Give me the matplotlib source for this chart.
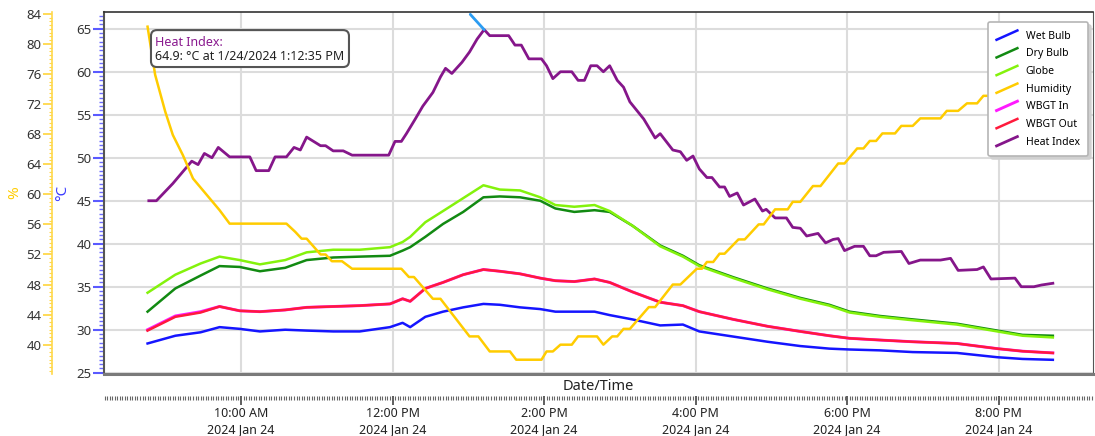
from datetime import datetime
import matplotlib
matplotlib.use("Agg")
import matplotlib.pyplot as plt
import matplotlib.dates as mdates
from matplotlib.ticker import MultipleLocator, FuncFormatter
from matplotlib.legend_handler import HandlerBase
from matplotlib.lines import Line2D
from matplotlib.patches import FancyBboxPatch

plt.rcParams['font.family'] = ['Noto Sans', 'DejaVu Sans']

DAY = "2024-01-24T"

# temperature series (deg C), common time base
temp_times = ["08:46", "09:08", "09:28", "09:43", "09:59", "10:15", "10:35", "10:52", "11:13", "11:34",
              "11:58", "12:08", "12:14", "12:26", "12:40", "12:56", "13:12", "13:25", "13:41", "13:57",
              "14:09", "14:24", "14:40", "14:52", "15:10", "15:32", "15:50", "16:03", "16:30", "16:57",
              "17:23", "17:46", "18:02", "18:26", "18:52", "19:27", "19:59", "20:19", "20:43"]
wet_bulb = [28.4, 29.3, 29.7, 30.3, 30.1, 29.8, 30.0, 29.9, 29.8, 29.8,
            30.3, 30.8, 30.3, 31.5, 32.1, 32.6, 33.0, 32.9, 32.6, 32.4,
            32.1, 32.1, 32.1, 31.7, 31.2, 30.5, 30.6, 29.8, 29.2, 28.6,
            28.1, 27.8, 27.7, 27.6, 27.4, 27.3, 26.8, 26.6, 26.5]
dry_bulb = [32.1, 34.8, 36.3, 37.4, 37.3, 36.8, 37.2, 38.1, 38.4, 38.5,
            38.6, 39.2, 39.6, 40.8, 42.3, 43.7, 45.4, 45.5, 45.4, 45.0,
            44.1, 43.7, 43.9, 43.7, 42.1, 39.8, 38.6, 37.5, 36.1, 34.8,
            33.7, 32.9, 32.1, 31.6, 31.2, 30.7, 29.9, 29.4, 29.3]
globe = [34.3, 36.4, 37.7, 38.5, 38.1, 37.6, 38.1, 39.0, 39.3, 39.3,
         39.6, 40.2, 40.8, 42.5, 43.8, 45.3, 46.8, 46.3, 46.2, 45.4,
         44.5, 44.3, 44.5, 43.8, 42.1, 39.7, 38.5, 37.4, 36.0, 34.7,
         33.6, 32.8, 32.0, 31.5, 31.1, 30.6, 29.8, 29.3, 29.1]
wbgt_in = [30.0, 31.6, 32.1, 32.7, 32.2, 32.1, 32.3, 32.6, 32.7, 32.8,
           33.0, 33.6, 33.3, 34.8, 35.5, 36.4, 37.0, 36.8, 36.5, 36.0,
           35.7, 35.6, 35.9, 35.5, 34.4, 33.2, 32.8, 32.1, 31.2, 30.4,
           29.8, 29.3, 29.0, 28.8, 28.6, 28.4, 27.8, 27.5, 27.3]
wbgt_out = [29.9, 31.5, 32.0, 32.7, 32.2, 32.1, 32.3, 32.6, 32.7, 32.8,
            33.0, 33.6, 33.3, 34.8, 35.5, 36.4, 37.0, 36.8, 36.5, 36.0,
            35.7, 35.6, 35.9, 35.5, 34.4, 33.2, 32.8, 32.1, 31.2, 30.4,
            29.8, 29.3, 29.0, 28.8, 28.6, 28.4, 27.8, 27.5, 27.3]

# heat index (deg C)
heat_times = ["08:47", "08:53", "09:06", "09:21", "09:26", "09:31", "09:37", "09:42", "09:51", "10:07",
              "10:12", "10:22", "10:27", "10:36", "10:42", "10:47", "10:52", "11:03", "11:07", "11:13",
              "11:21", "11:28", "11:57", "12:02", "12:07", "12:11", "12:18", "12:24", "12:32", "12:38",
              "12:42", "12:47", "12:55", "13:01", "13:07", "13:12:35", "13:17", "13:32", "13:37", "13:42",
              "13:48", "13:58", "14:02", "14:07", "14:13", "14:22", "14:27", "14:32", "14:37", "14:42",
              "14:47", "14:52", "14:58", "15:03", "15:08", "15:19", "15:28", "15:32", "15:42", "15:48",
              "15:53", "15:58", "16:03", "16:09", "16:13", "16:19", "16:23", "16:27", "16:33", "16:38",
              "16:47", "16:53", "16:56", "17:03", "17:12", "17:17", "17:23", "17:28", "17:37", "17:43",
              "17:49", "17:53", "17:58", "18:06", "18:13", "18:18", "18:23", "18:29", "18:43", "18:49",
              "18:58", "19:14", "19:22", "19:28", "19:43", "19:48", "19:54", "20:13", "20:18", "20:28",
              "20:34", "20:43"]
heat_index = [45.0, 45.0, 47.0, 49.6, 49.2, 50.5, 50.0, 51.2, 50.1, 50.1,
              48.5, 48.5, 50.1, 50.1, 51.2, 50.9, 52.4, 51.4, 51.4, 50.8,
              50.8, 50.3, 50.3, 51.9, 51.9, 52.8, 54.5, 56.0, 57.6, 59.4,
              60.4, 59.8, 61.1, 62.3, 63.8, 64.9, 64.2, 64.2, 63.1, 63.1,
              61.5, 61.5, 60.7, 59.2, 60.0, 60.0, 59.0, 59.0, 60.7, 60.7,
              60.0, 60.7, 59.0, 58.2, 56.5, 54.5, 52.3, 52.8, 50.9, 50.7,
              49.7, 50.2, 48.7, 47.7, 47.7, 46.6, 46.6, 45.5, 45.9, 44.5,
              45.2, 43.8, 44.0, 43.0, 43.0, 41.9, 41.8, 40.9, 41.2, 40.1,
              40.5, 40.6, 39.2, 39.7, 39.7, 38.6, 38.6, 39.0, 39.1, 37.7,
              38.1, 38.1, 38.3, 36.9, 37.0, 37.3, 35.9, 36.0, 35.0, 35.0,
              35.2, 35.4]

# relative humidity (%)
hum_times = ["08:46", "08:52", "09:00", "09:06", "09:14", "09:22", "09:33", "09:43", "09:51", "10:36",
             "10:43", "10:48", "10:52", "11:03", "11:07", "11:12", "11:20", "11:28", "12:07", "12:13",
             "12:17", "12:32", "12:38", "13:01", "13:08", "13:17", "13:33", "13:38", "13:58", "14:02",
             "14:07", "14:13", "14:22", "14:27", "14:42", "14:47", "14:54", "14:58", "15:03", "15:08",
             "15:23", "15:28", "15:42", "15:48", "16:01", "16:05", "16:09", "16:14", "16:19", "16:23",
             "16:34", "16:39", "16:50", "16:54", "17:03", "17:13", "17:17", "17:23", "17:33", "17:39",
             "17:53", "17:58", "18:08", "18:13", "18:18", "18:23", "18:28", "18:38", "18:43", "18:52",
             "18:58", "19:14", "19:19", "19:28", "19:35", "19:43", "19:48", "19:54", "20:00", "20:10",
             "20:16", "20:28", "20:34", "20:43"]
humidity = [82.3, 75.9, 71.0, 67.9, 65.2, 62.1, 59.9, 57.9, 56.1, 56.1,
            55.0, 54.1, 54.1, 52.0, 52.0, 51.1, 51.1, 50.1, 50.1, 49.0,
            49.0, 46.1, 46.1, 41.1, 41.1, 39.1, 39.1, 38.0, 38.0, 39.1,
            39.1, 40.0, 40.0, 41.1, 41.1, 40.0, 41.1, 41.1, 42.1, 42.1,
            45.0, 45.0, 48.0, 48.0, 50.1, 50.1, 51.0, 51.0, 52.1, 52.1,
            54.0, 54.0, 56.0, 56.0, 58.0, 58.0, 59.0, 59.0, 61.1, 61.1,
            64.1, 64.1, 66.1, 66.1, 67.1, 67.1, 68.1, 68.1, 69.1, 69.1,
            70.1, 70.1, 71.1, 71.1, 72.1, 72.1, 73.1, 73.1, 74.0, 74.0,
            75.0, 75.0, 76.0, 76.0]

x_start, x_end = "08:11:30", "21:14:48"


def to_dt(lst):
    return [datetime.fromisoformat(DAY + s) for s in lst]


class DiagHandler(HandlerBase):
    # legend swatch drawn as a short rising diagonal
    def create_artists(self, legend, orig_handle, xdescent, ydescent, width, height, fontsize, trans):
        ln = Line2D([-xdescent, -xdescent + width], [-ydescent, -ydescent + height],
                    color=orig_handle.get_color(), lw=orig_handle.get_linewidth(), transform=trans)
        return [ln]


def time_label(x, pos=None):
    d = mdates.num2date(x)
    h = d.hour % 12 or 12
    ampm = "AM" if d.hour < 12 else "PM"
    return f"{h}:{d.minute:02d} {ampm}\n{d.year} {d:%b} {d.day}"


fig = plt.figure(figsize=(10.95, 4.36), dpi=100)
ax = fig.add_axes([104 / 1095, 1 - 374 / 436, 989 / 1095, 362 / 436])
ax2 = ax.twinx()

tt = to_dt(temp_times)
lw = 1.8
ax.plot(tt, wet_bulb, color='#1515ff', lw=lw, label='Wet Bulb')
ax.plot(tt, dry_bulb, color='#128a12', lw=lw, label='Dry Bulb')
ax.plot(tt, globe, color='#84f20c', lw=lw, label='Globe')
ax.plot(tt, wbgt_in, color='#ff1aff', lw=lw + 0.3, label='WBGT In')
ax.plot(tt, wbgt_out, color='#ff1a3c', lw=lw, label='WBGT Out')
ht = to_dt(heat_times)
ax.plot(ht, heat_index, color='#85168a', lw=lw + 0.2, label='Heat Index')
ax2.plot(to_dt(hum_times), humidity, color='#ffcc00', lw=lw, label='Humidity')

ax.set_xlim(to_dt([x_start, x_end]))
ax.set_ylim(24.85, 66.95)
ax2.set_ylim(36.1, 84.25)

# left temperature axis
ax.yaxis.set_major_locator(MultipleLocator(5))
ax.yaxis.set_minor_locator(MultipleLocator(0.5))
ax.tick_params(axis='y', which='major', length=8, width=1.5, color='#5a5aff',
               labelsize=9.5, labelcolor='#333333', pad=1)
ax.tick_params(axis='y', which='minor', length=3.5, width=1, color='#6b6bff')
ax.spines['left'].set_color('#555555')
ax.spines['left'].set_linewidth(1.5)
for s in ['top', 'right']:
    ax.spines[s].set_visible(False)

# date ruler below plot
ax.spines['bottom'].set_position(('outward', 16))
ax.spines['bottom'].set_color('none')
ax.xaxis.set_major_locator(mdates.HourLocator(byhour=range(10, 22, 2)))
ax.xaxis.set_minor_locator(mdates.MinuteLocator(byminute=range(0, 60, 2)))
ax.xaxis.set_major_formatter(FuncFormatter(time_label))
ax.tick_params(axis='x', which='major', length=6.5, width=1.2, color='#444444',
               labelsize=9, labelcolor='#222222', pad=1)
ax.tick_params(axis='x', which='minor', length=3, width=0.8, color='#666666')
for lbl in ax.get_xticklabels():
    lbl.set_linespacing(1.35)

ax.grid(True, which='major', color='#dcdcdc', lw=1.5)
ax.set_axisbelow(True)

# humidity axis, further left
ax2.yaxis.set_ticks_position('left')
ax2.spines['left'].set_position(('outward', 37.5))
ax2.spines['left'].set_color('#ffd84a')
ax2.spines['left'].set_linewidth(1.2)
ax2.yaxis.set_major_locator(MultipleLocator(4))
ax2.yaxis.set_minor_locator(MultipleLocator(0.5))
ax2.tick_params(axis='y', which='major', length=6.5, width=1.3, color='#ffd84a',
                labelsize=9.5, labelcolor='#333333', pad=1)
ax2.tick_params(axis='y', which='minor', length=2.5, width=0.8, color='#ffd84a')
ax2.spines['bottom'].set_color('#7a7a7a')
ax2.spines['bottom'].set_linewidth(2.2)
ax2.spines['top'].set_color('#333333')
ax2.spines['top'].set_linewidth(1.2)
ax2.spines['right'].set_color('#555555')

fig.text(15 / 1095, 1 - 193 / 436, '%', color='#ffcc00', fontsize=11, rotation=90, ha='center', va='center')
fig.text(63 / 1095, 1 - 193 / 436, '°C', color='#3c3cff', fontsize=11, rotation=90, ha='center', va='center')
ax.text(0.5, -0.035, 'Date/Time', transform=ax.transAxes, ha='center', va='center',
        fontsize=10.5, color='#222222')

# legend
h1, l1 = ax.get_legend_handles_labels()
h2, l2 = ax2.get_legend_handles_labels()
order = ['Wet Bulb', 'Dry Bulb', 'Globe', 'Humidity', 'WBGT In', 'WBGT Out', 'Heat Index']
lookup = dict(zip(l1 + l2, h1 + h2))
leg = ax2.legend([lookup[k] for k in order], order, handler_map={Line2D: DiagHandler()},
                 loc='upper right', bbox_to_anchor=(0.995, 0.972), borderaxespad=0,
                 fontsize=7.5, labelspacing=0.62, handlelength=2.0, handleheight=1.0,
                 handletextpad=0.8, borderpad=0.8, fancybox=True, framealpha=1,
                 edgecolor='#b5b5b5', shadow={'ox': 2, 'oy': -2, 'color': '#d0d0d0', 'alpha': 1})
leg.get_frame().set_linewidth(1.2)
leg.set_zorder(20)

# hover tooltip on the heat-index peak
peak = heat_index.index(max(heat_index))
ax.annotate('', xy=(ht[peak], heat_index[peak]), xytext=(-10, 11), textcoords='offset points',
            arrowprops=dict(arrowstyle='-', color='#2b9cf2', lw=2, shrinkA=0, shrinkB=0),
            annotation_clip=False)
box = FancyBboxPatch((0.0475, 0.848), 0.2002, 0.102, boxstyle='round,pad=0,rounding_size=0.006',
                     mutation_aspect=989 / 362, transform=ax2.transAxes, facecolor='white',
                     edgecolor='#555555', lw=1.5, zorder=20)
ax2.add_patch(box)
ax2.text(0.0516, 0.917, 'Heat Index:', transform=ax2.transAxes, color='#8a1a8f',
         fontsize=9, va='center', ha='left', zorder=21)
ax2.text(0.0516, 0.8757, f'{heat_index[peak]}: °C at 1/24/2024 1:12:35 PM', transform=ax2.transAxes,
         color='#222222', fontsize=9, va='center', ha='left', zorder=21)

fig.savefig('out.png', dpi=100)
